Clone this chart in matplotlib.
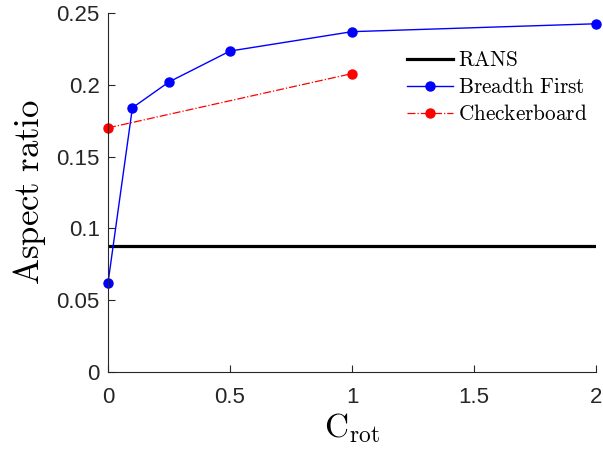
import matplotlib
matplotlib.use("Agg")
import matplotlib.pyplot as plt

# data
c_bf = [0, 0.1, 0.25, 0.5, 1, 2]
ar_bf = [0.062, 0.184, 0.202, 0.2235, 0.237, 0.2425]
c_cb = [0, 1]
ar_cb = [0.170, 0.2078]
rans = 0.0877

plt.rcParams['mathtext.fontset'] = 'cm'
plt.rcParams['font.family'] = ['Liberation Sans', 'DejaVu Sans']

fig = plt.figure(figsize=(6.03, 4.49), dpi=100)
ax = fig.add_axes([108/603, 1 - 372/449, (596-108)/603, (372-13)/449])

ax.axhline(rans, color='k', lw=2.3, label=r'$\mathrm{RANS}$')
ax.plot(c_bf, ar_bf, '-o', color='b', lw=1, ms=6.5, clip_on=False, label=r'$\mathrm{Breadth\ First}$')
ax.plot(c_cb, ar_cb, '-.o', color='r', lw=0.9, ms=6.5, clip_on=False, label=r'$\mathrm{Checkerboard}$')

ax.set_xlim(0, 2)
ax.set_ylim(0, 0.25)
ax.set_xticks([0, 0.5, 1, 1.5, 2])
ax.set_xticklabels(['0', '0.5', '1', '1.5', '2'])
ax.set_yticks([0, 0.05, 0.1, 0.15, 0.2, 0.25])
ax.set_yticklabels(['0', '0.05', '0.1', '0.15', '0.2', '0.25'])
ax.tick_params(direction='in', labelsize=16, colors='#262626', length=5, width=0.8)
ax.tick_params(axis='x', pad=11)
ax.tick_params(axis='y', pad=6)
for s in ['top', 'right']:
    ax.spines[s].set_visible(False)
for s in ['left', 'bottom']:
    ax.spines[s].set_color('#262626')
    ax.spines[s].set_linewidth(0.8)

ax.set_xlabel(r'$\mathrm{C_{rot}}$', fontsize=24, labelpad=2)
ax.set_ylabel(r'$\mathrm{Aspect\ ratio}$', fontsize=25, labelpad=6)

ax.legend(loc='upper left', bbox_to_anchor=(0.613, 0.893), frameon=False, fontsize=15.3,
          handlelength=2.17, handletextpad=0.2, labelspacing=0.32, borderpad=0,
          borderaxespad=0)

fig.savefig('out.png', dpi=100)
